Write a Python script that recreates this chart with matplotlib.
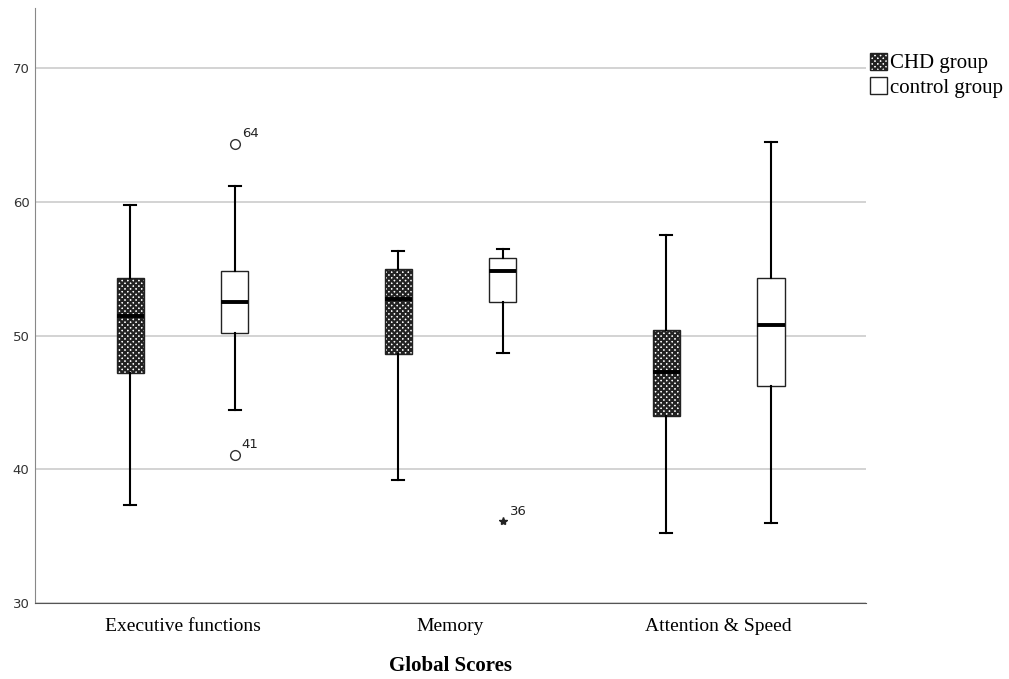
import matplotlib

matplotlib.use("Agg")
import matplotlib.pyplot as plt
from matplotlib.patches import Patch

# values
categories = ["Executive functions", "Memory", "Attention & Speed"]
groups = ["CHD group", "control group"]

chd_whislo = [37.3, 39.2, 35.2]
chd_q1 = [47.2, 48.6, 44.0]
chd_med = [51.5, 52.7, 47.3]
chd_q3 = [54.3, 55.0, 50.4]
chd_whishi = [59.8, 56.3, 57.5]

ctl_whislo = [44.4, 48.7, 36.0]
ctl_q1 = [50.2, 52.5, 46.2]
ctl_med = [52.5, 54.8, 50.8]
ctl_q3 = [54.8, 55.8, 54.3]
ctl_whishi = [61.2, 56.5, 64.5]

# outliers of the control group: (category index, value, case id, kind)
ctl_outliers = [(0, 64.3, "64", "o"), (0, 41.1, "41", "o"), (1, 36.1, "36", "*")]

serif = ["Liberation Serif", "DejaVu Serif"]


def make_stats(lo, q1, med, q3, hi):
    return [
        {"whislo": a, "q1": b, "med": c, "q3": d, "whishi": e, "fliers": []}
        for a, b, c, d, e in zip(lo, q1, med, q3, hi)
    ]


plt.rcParams["hatch.linewidth"] = 1.6

fig = plt.figure(figsize=(10.09, 6.79), dpi=100)
ax = fig.add_axes([0.0347, 0.1119, 0.8236, 0.8763])

offset = 0.195
width = 0.102
pos = list(range(len(categories)))

common = dict(
    widths=width,
    patch_artist=True,
    showfliers=False,
    whiskerprops=dict(color="black", linewidth=1.5),
    capprops=dict(color="black", linewidth=1.5),
    medianprops=dict(color="black", linewidth=2.8),
    capwidths=0.045,
    zorder=3,
)

ax.bxp(
    make_stats(chd_whislo, chd_q1, chd_med, chd_q3, chd_whishi),
    positions=[p - offset for p in pos],
    boxprops=dict(facecolor="white", edgecolor="#222222", linewidth=1.0, hatch="xxxxxx"),
    **common,
)
ax.bxp(
    make_stats(ctl_whislo, ctl_q1, ctl_med, ctl_q3, ctl_whishi),
    positions=[p + offset for p in pos],
    boxprops=dict(facecolor="white", edgecolor="#222222", linewidth=1.0),
    **common,
)

for idx, val, lab, kind in ctl_outliers:
    x = pos[idx] + offset
    if kind == "o":
        ax.plot(x, val, marker="o", ms=7, mfc="white", mec="#333333", mew=1.0, zorder=4)
    else:
        ax.plot(x, val, marker="*", ms=6, color="#222222", zorder=4)
    ax.annotate(lab, (x, val), xytext=(5, 5), textcoords="offset points",
                fontsize=9.5, fontfamily="DejaVu Sans", color="#222222")

ax.set_xlim(-0.55, 2.55)
ax.set_ylim(30, 74.5)
ax.set_yticks([30, 40, 50, 60, 70])
ax.set_xticks(pos)
ax.set_xticklabels(categories, fontfamily=serif, fontsize=14)
ax.tick_params(axis="x", length=0, pad=11)
ax.tick_params(axis="y", length=0, pad=4, labelsize=9.5, labelcolor="#333333")
ax.yaxis.grid(True, color="#cccccc", linewidth=1.2, zorder=0)
ax.set_axisbelow(True)
for side in ["top", "right"]:
    ax.spines[side].set_visible(False)
ax.spines["left"].set_color("#888888")
ax.spines["bottom"].set_color("#555555")

ax.set_xlabel("Global Scores", fontfamily=serif, fontsize=15, fontweight="bold", labelpad=15)

handles = [
    Patch(facecolor="white", edgecolor="#222222", hatch="xxxxxx", label=groups[0]),
    Patch(facecolor="white", edgecolor="#222222", label=groups[1]),
]
fig.legend(handles=handles, loc="upper left", bbox_to_anchor=(0.862, 0.922),
           frameon=False, prop={"family": serif, "size": 15},
           handlelength=0.85, handleheight=0.85, handletextpad=0.1, labelspacing=0.18,
           borderaxespad=0, borderpad=0)

fig.savefig("out.png", dpi=100)
